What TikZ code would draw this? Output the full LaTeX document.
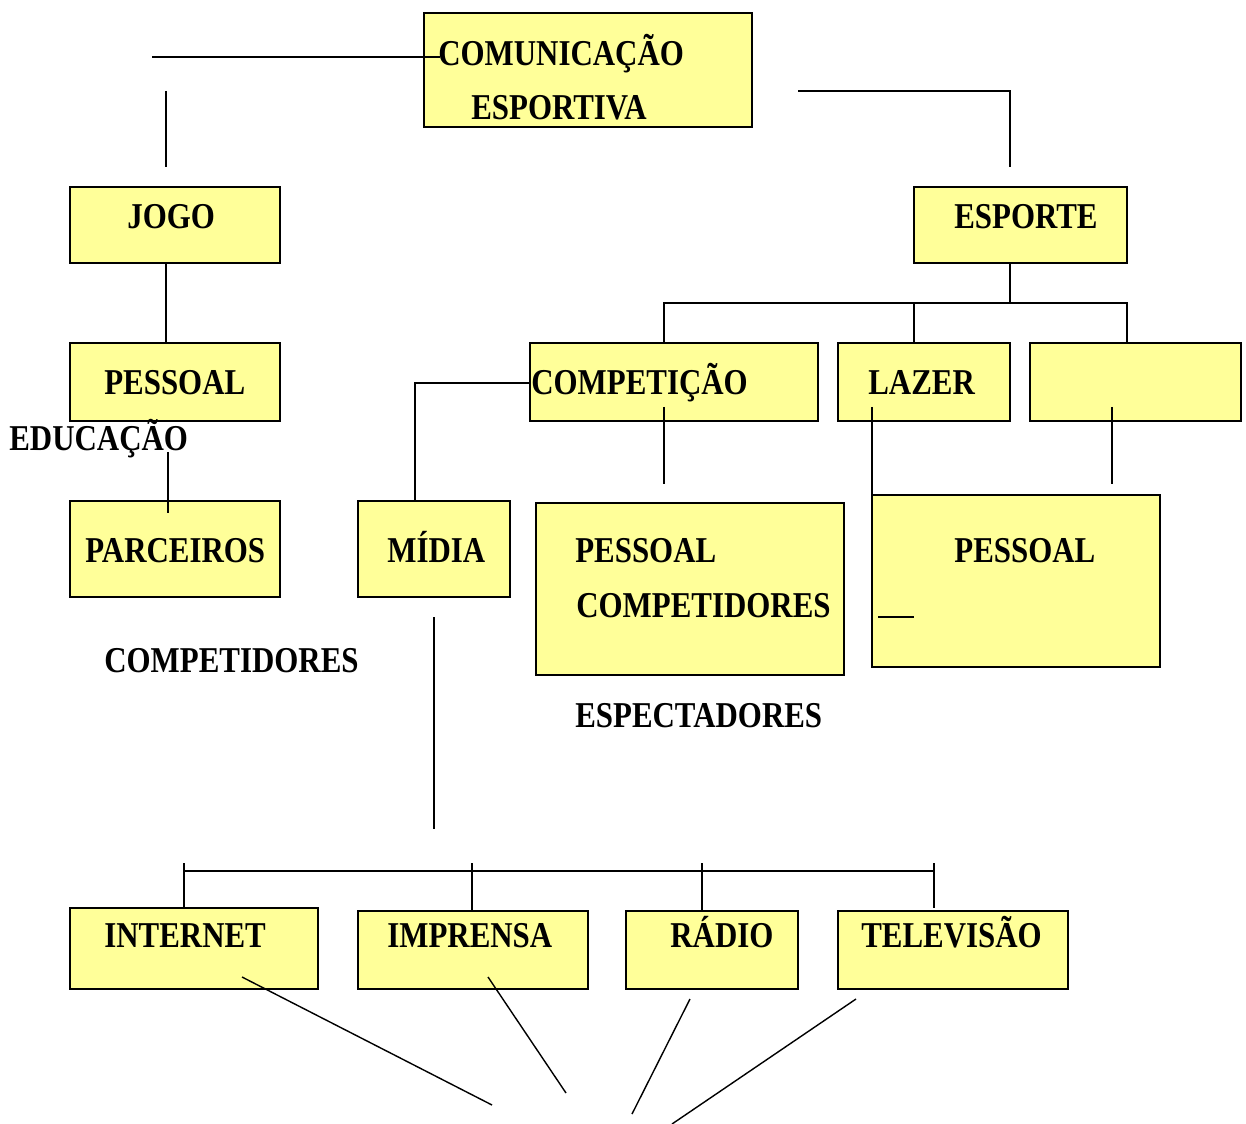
\documentclass[tikz,border=0pt]{standalone}
\usepackage{fontspec}
\usetikzlibrary{fit}
\newfontfamily\mapfont[FakeStretch=0.85]{Liberation Serif}
\definecolor{BoxYellow}{HTML}{FFFF99}

\begin{document}
\begin{tikzpicture}[x=0.02cm,y=-0.02cm,line cap=butt,line join=miter,
    box/.style={draw=black,fill=BoxYellow,line width=1.1pt,inner sep=0pt},
    lbl/.style={anchor=base west,inner sep=0pt,
      font=\mapfont\bfseries\fontsize{20.7}{24}\selectfont},
    link/.style={draw=black,line width=0.8pt}]

% Canvas: 1 unit = 1 px of the original chart, y pointing down
\useasboundingbox (0,0) rectangle (1246,1124);

% ---- BOXES ----
\node[box,fit={(424,13) (752,127)}]   (com) {};
\node[box,fit={(70,187) (280,263)}]   (jogo) {};
\node[box,fit={(914,187) (1127,263)}] (esporte) {};
\node[box,fit={(70,343) (280,421)}]   (pessoalA) {};
\node[box,fit={(530,343) (818,421)}]  (competicao) {};
\node[box,fit={(838,343) (1010,421)}] (lazer) {};
\node[box,fit={(1030,343) (1241,421)}] (vazio) {};
\node[box,fit={(70,501) (280,597)}]   (parceiros) {};
\node[box,fit={(358,501) (510,597)}]  (midia) {};
\node[box,fit={(536,503) (844,675)}]  (pessoalB) {};
\node[box,fit={(872,495) (1160,667)}] (pessoalC) {};
\node[box,fit={(70,908) (318,989)}]   (internet) {};
\node[box,fit={(358,911) (588,989)}]  (imprensa) {};
\node[box,fit={(626,911) (798,989)}]  (radio) {};
\node[box,fit={(838,911) (1068,989)}] (tv) {};

% ---- LABELS ----
\node[lbl] (tCom)  at (438,66)  {COMUNICAÇÃO};
\node[lbl] (tEsp)  at (471,120) {ESPORTIVA};
\node[lbl] (tJogo) at (127,229) {JOGO};
\node[lbl] (tEspo) at (954,229) {ESPORTE};
\node[lbl] (tPesA) at (104,395) {PESSOAL};
\node[lbl] (tComp) at (531,395) {COMPETIÇÃO};
\node[lbl] (tLaz)  at (868,395) {LAZER};
\node[lbl] (tEdu)  at (9,451)   {EDUCAÇÃO};
\node[lbl] (tParc) at (85,562)  {PARCEIROS};
\node[lbl] (tMid)  at (387,562) {MÍDIA};
\node[lbl] (tPesB) at (575,562) {PESSOAL};
\node[lbl] (tCmpB) at (576,617) {COMPETIDORES};
\node[lbl] (tPesC) at (954,562) {PESSOAL};
\node[lbl] (tCmpA) at (104,672) {COMPETIDORES};
\node[lbl] (tEspe) at (575,727) {ESPECTADORES};
\node[lbl] (tInt)  at (104,947) {INTERNET};
\node[lbl] (tImp)  at (387,947) {IMPRENSA};
\node[lbl] (tRad)  at (670,947) {RÁDIO};
\node[lbl] (tTv)   at (861,947) {TELEVISÃO};

% ---- LINKS ----
% top branch
\coordinate (topA) at (152,57);
\coordinate (topB) at (440,57);
\draw[link] (topA) -- (topB);
\coordinate (jogoUp) at (166,91);
\draw[link] (jogoUp) -- (jogoUp |- 0,167);
\coordinate (espUp) at (798,91);
\draw[link] (espUp) -- (1010,91) -- (1010,167);

% left column
\draw[link] (166,263) -- (166,343);
\draw[link] (168,452) -- (168,513);

% esporte bus
\coordinate (espBus) at (1010,303);
\draw[link] (espBus |- esporte.south) -- (espBus);
\draw[link] (664,343) -- (664,303) -- (1127,303) -- (1127,343);
\draw[link] (914,303) -- (914,343);

% midia to competicao
\draw[link] (415,501) -- (415,383) -- (competicao.west |- 0,383);

% drops from the second row
\draw[link] (664,407) -- (664,484);
\draw[link] (872,407) -- (872,495);
\draw[link] (1112,407) -- (1112,484);
\draw[link] (878,617) -- (914,617);

% midia bus
\draw[link] (434,617) -- (434,829);
\coordinate (busL) at (184,871);
\coordinate (busR) at (934,871);
\draw[link] (busL) -- (busR);
\draw[link] (184,863) -- (184,908);
\draw[link] (472,863) -- (472,911);
\draw[link] (702,863) -- (702,911);
\draw[link] (934,863) -- (934,908);

% fan at the bottom
\draw[link] (242,977) -- (492,1105);
\draw[link] (488,977) -- (566,1093);
\draw[link] (690,999) -- (632,1114);
\draw[link] (856,999) -- (672,1124);

\end{tikzpicture}
\end{document}
